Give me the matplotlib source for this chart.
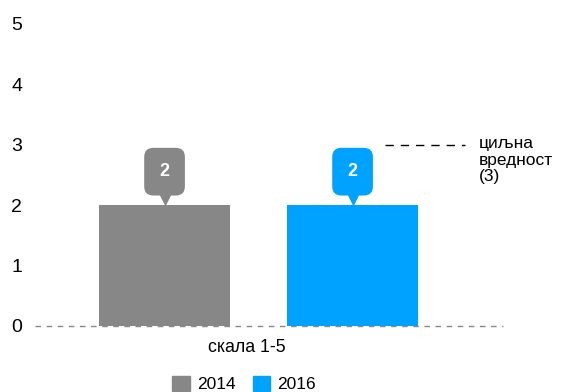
import matplotlib
matplotlib.use("Agg")
import matplotlib.pyplot as plt
from matplotlib.patches import Patch

plt.rcParams['font.family'] = ['Liberation Sans', 'DejaVu Sans']

years = ["2014", "2016"]
values = [2, 2]
colors = ["#878787", "#00a2ff"]
category = "скала 1-5"
target = 3
target_label = "циљна\nвредност\n(3)"
yticks = [0, 1, 2, 3, 4, 5]

W, H = 563, 392
fig = plt.figure(figsize=(W/100, H/100), dpi=100)
# axes pixel box: x 35..503, y(0)=326, y(5)=24
ax = fig.add_axes([35/W, (H-326)/H, 468/W, (326-24)/H])
ax.set_ylim(0, 5)
ax.set_xlim(-0.689, 1.80)

xs = [0, 1]
ax.bar(xs, values, width=0.697, color=colors, zorder=2)

for s in ax.spines.values():
    s.set_visible(False)
ax.set_xticks([])
ax.set_yticks(yticks)
ax.set_yticklabels([str(t) for t in yticks], fontsize=14, ha='left')
ax.tick_params(axis='y', length=0, pad=17)
ax.axhline(0, color='#888888', lw=1, ls=(0, (4, 4)), zorder=3, clip_on=False)

# callouts
for x, v, c in zip(xs, values, colors):
    ax.text(x, v + 0.555, str(v), ha='center', va='center', color='white',
            fontsize=13, fontweight='bold', zorder=5,
            bbox=dict(boxstyle='round,pad=0.85,rounding_size=0.5', fc=c, ec='none'))
    ax.plot([x], [v + 0.13], marker='v', ms=13, color=c, mec='none', zorder=4)

# target annotation
ax.plot([1.17, 1.60], [target, target], color='black', lw=1, ls=(0, (6, 5)), clip_on=False)
ax.text(1.67, target + 0.15, target_label, ha='left', va='top', fontsize=12.5,
        linespacing=1.15)

ax.text(0.44, -0.35, category, ha='center', va='center', fontsize=12.8)

handles = [Patch(color=c) for c in colors]
fig.legend(handles, years, loc='center', bbox_to_anchor=(244/W, 1 - 384/H), ncol=2,
           frameon=False, fontsize=12.5, handlelength=1.0, handleheight=1.0,
           handletextpad=0.4, columnspacing=1.0)

fig.savefig("out.png", dpi=100)
